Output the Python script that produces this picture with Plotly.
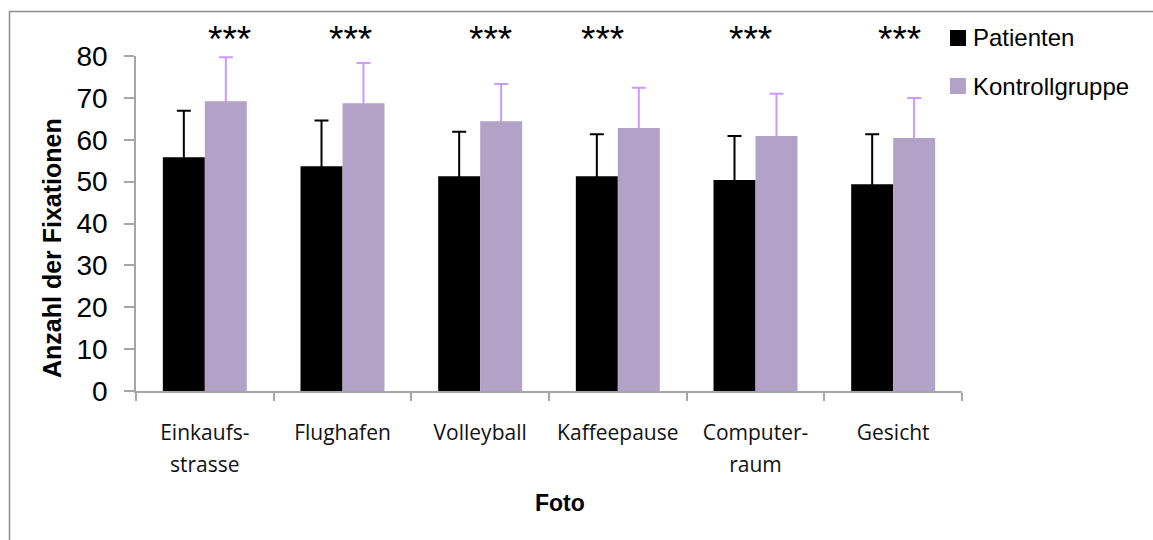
import plotly.graph_objects as go

# Kategorien (Fotos) und Tick-Beschriftungen
fotos = ["Einkaufsstrasse", "Flughafen", "Volleyball", "Kaffeepause", "Computerraum", "Gesicht"]
foto_labels = ["Einkaufs-<br>strasse", "Flughafen", "Volleyball", "Kaffeepause", "Computer-<br>raum", "Gesicht"]

# Mittelwerte und Standardabweichungen der Fixationen
patienten_mw = [55.8, 53.7, 51.3, 51.3, 50.4, 49.4]
patienten_sd = [11.1, 10.9, 10.6, 10.0, 10.5, 11.9]
kontrolle_mw = [69.2, 68.7, 64.4, 62.8, 60.9, 60.4]
kontrolle_sd = [10.5, 9.6, 8.9, 9.6, 10.1, 9.6]

# Signifikanzsterne je Foto und ihre horizontale Verschiebung (px)
sterne = ["***"] * 6
sterne_shift = [25, 8, 10, -15, -5, 6]

y_ticks = [0, 10, 20, 30, 40, 50, 60, 70, 80]

SCHWARZ = "#000000"
LILA = "#B3A2C7"
LILA_FEHLER = "#CC99FF"
GRAU = "#A6A6A6"

fig = go.Figure()

# Fehlerbalken zuerst (unsichtbare Balken), damit die Säulen das untere Ende verdecken
for name, mw, sd, farbe, grp in [
    ("Patienten", patienten_mw, patienten_sd, SCHWARZ, "p"),
    ("Kontrollgruppe", kontrolle_mw, kontrolle_sd, LILA_FEHLER, "k"),
]:
    fig.add_trace(go.Bar(
        name=name, x=fotos, y=mw, offsetgroup=grp,
        marker=dict(color="rgba(0,0,0,0)", line=dict(width=0)),
        error_y=dict(type="data", array=sd, symmetric=False, arrayminus=[1.0] * len(sd),
                     color=farbe, thickness=2, width=7),
        showlegend=False, hoverinfo="skip",
    ))

# Säulen
fig.add_trace(go.Bar(
    name="Patienten", x=fotos, y=patienten_mw, offsetgroup="p",
    marker=dict(color=SCHWARZ, line=dict(width=0)),
    showlegend=False,
))
fig.add_trace(go.Bar(
    name="Kontrollgruppe", x=fotos, y=kontrolle_mw, offsetgroup="k",
    marker=dict(color=LILA, line=dict(width=0)),
    showlegend=False,
))

# Plotbereich in Pixeln
L, R, T, B = 136, 962, 56, 391
W, H = 1153, 540
pw, ph = R - L, B - T


def px_x(p):
    return (p - L) / pw


def px_y(p):
    return (B - p) / ph


tick_font_base = 25
fig.update_layout(
    width=W, height=H,
    margin=dict(l=L, r=W - R, t=T, b=H - B, pad=0),
    plot_bgcolor="white", paper_bgcolor="white",
    barmode="group", bargap=0.39, bargroupgap=0,
    font=dict(family="Liberation Sans, Arial, sans-serif", color="black"),
    xaxis=dict(
        type="category",
        tickvals=fotos,
        ticktext=[f"<span style='font-size:21px'>{t}</span>" for t in foto_labels],
        tickfont=dict(family="Open Sans, sans-serif", size=tick_font_base, color="#111111"),
        showline=True, linecolor=GRAU, linewidth=1.5,
        ticks="outside", tickson="boundaries", ticklen=8, tickcolor=GRAU, tickwidth=1.5,
        ticklabelstandoff=17,
        showgrid=False, zeroline=False,
    ),
    yaxis=dict(
        range=[0, 80],
        tickvals=y_ticks,
        tickfont=dict(family="Liberation Sans, Arial, sans-serif", size=28, color="black"),
        showline=True, linecolor=GRAU, linewidth=1.5,
        ticks="outside", ticklen=10, tickcolor=GRAU, tickwidth=1.5,
        ticklabelstandoff=11,
        showgrid=False, zeroline=False,
    ),
)

annotations = []
# Signifikanzsterne
for foto, s, dx in zip(fotos, sterne, sterne_shift):
    annotations.append(dict(
        x=foto, y=px_y(39), xref="x", yref="paper", text=s, showarrow=False,
        xshift=dx, yanchor="middle", xanchor="center",
        font=dict(size=37, family="Liberation Sans, Arial, sans-serif", color="black"),
    ))

# Achsentitel
annotations.append(dict(
    x=px_x(560), y=px_y(503), xref="paper", yref="paper", text="<b>Foto</b>",
    showarrow=False, xanchor="center", yanchor="middle",
    font=dict(size=23, color="black"),
))
annotations.append(dict(
    x=px_x(52), y=px_y(248), xref="paper", yref="paper", text="<b>Anzahl der Fixationen</b>",
    showarrow=False, xanchor="center", yanchor="middle", textangle=-90,
    font=dict(size=25, color="black"),
))

# Legende
legende = [("Patienten", SCHWARZ, 38), ("Kontrollgruppe", LILA, 86)]
shapes = []
for name, farbe, yc in legende:
    shapes.append(dict(
        type="rect", xref="paper", yref="paper",
        x0=px_x(950), x1=px_x(966), y0=px_y(yc + 8), y1=px_y(yc - 8),
        fillcolor=farbe, line=dict(width=0),
    ))
    annotations.append(dict(
        x=px_x(971), y=px_y(yc), xref="paper", yref="paper", text=name,
        showarrow=False, xanchor="left", yanchor="middle",
        font=dict(size=24, color="black"),
    ))

# Rahmen des Diagrammbereichs (oben und links)
shapes.append(dict(
    type="path", xref="paper", yref="paper",
    path=f"M {px_x(9.5)} {px_y(560)} L {px_x(9.5)} {px_y(11.5)} L {px_x(1160)} {px_y(11.5)}",
    line=dict(color="#8C8C8C", width=1.5),
))

fig.update_layout(annotations=annotations, shapes=shapes)

fig.write_html("out.html")
